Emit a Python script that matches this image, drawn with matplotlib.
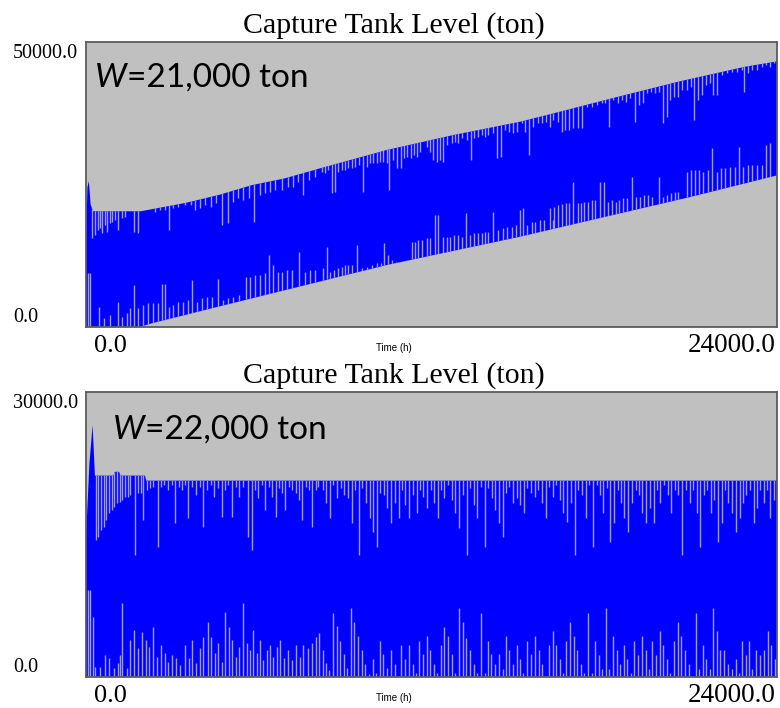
import matplotlib
matplotlib.use("Agg")
import matplotlib.pyplot as plt

BLUE = "#0000ff"; GREY = "#c0c0c0"; DIP = "#9e9ef6"; EDGE = "#5c5c5c"
W, H = 780, 708

# ---------- W = 21,000 ton : band envelope (h, ton) ----------
a_up_t = [0, 50, 100, 160, 250, 1900, 3440, 4600, 5770, 6910, 8127, 10443, 12759,
          15075, 16233, 18257, 20573, 22889, 24000]
a_up_v = [14700, 24500, 25600, 21500, 20300, 20300, 21750, 23150, 24900, 26080, 27830,
          31050, 33680, 36010, 37480, 40110, 43040, 45660, 46600]
a_lo_t = [0, 1850, 2281, 4596, 10443, 15075, 20980, 24000]
a_lo_v = [0, 0, 640, 3570, 10870, 15840, 22800, 26600]

# light strokes hanging from the top of the band (lowest level reached)
a_hi_t = [220, 313, 405, 498, 567, 660, 730, 822, 915, 1007, 1123, 1239, 1354, 1679, 1795,
          2281, 2396, 2570, 2744, 2883, 3033, 3207, 3438, 3647, 3786, 3960, 4133, 4342, 4504,
          4735, 4920, 5117, 5291, 5465, 5661, 5846, 6043, 6217, 6391, 6564, 6796, 7027, 7201,
          7375, 7548, 7745, 7953,
          8185, 8301, 8417, 8532, 8648, 8764, 8880, 8996, 9111, 9227, 9343, 9482, 9609, 9748,
          9864, 9980, 10096, 10211, 10327, 10443, 10536, 10675, 10814, 10929, 11045, 11161,
          11277, 11393, 11485, 11601, 11833, 11948, 12064, 12180, 12296, 12412, 12550, 12701,
          12817, 12933, 13049, 13222, 13361, 13477, 13628, 13743, 13859, 13975, 14125, 14264,
          14403, 14554, 14704, 14843, 14959, 15133, 15249, 15388, 15538, 15712, 15828, 15979,
          16117, 16233,
          16381, 16520, 16636, 16775, 16925, 17076, 17215, 17389, 17562, 17736, 17910, 18025,
          18164, 18315, 18465, 18604, 18743, 18894, 19068, 19207, 19357, 19473, 19623, 19762,
          19901, 20052, 20168, 20284, 20434, 20550, 20689, 20863, 21002, 21129, 21268, 21384,
          21523, 21673, 21789, 21905, 22078, 22252, 22426, 22600, 22773, 22866, 23005, 23144,
          23294, 23468, 23607, 23758, 23885]
a_hi_v = [15560, 16140, 17010, 17300, 16430, 17890, 16720, 18190, 18470, 18770, 17010, 19060,
          19350, 16720, 16430, 20820, 20230, 20520, 20520, 17010, 20820, 21100, 21400, 21400,
          20520, 20820, 21400, 21100, 21690, 17890, 18190, 21980, 22570, 22280, 22570, 18470,
          23150, 23450, 23730, 24030, 24030, 24610, 24610, 25490, 23150, 25780, 26360,
          27250, 26950, 27540, 23440, 23740, 27250, 27540, 27540, 27830, 27830, 28120, 28410,
          23740, 28120, 28710, 28710, 28710, 29000, 29000, 28710, 24030, 29290, 27830, 27830,
          29580, 29870, 29580, 30170, 29870, 30750, 31630, 30750, 29290, 29000, 29290, 29000,
          31920, 32220, 32500, 32220, 33090, 32800, 29290, 33090, 33380, 33680, 33380, 33680,
          33970, 29580, 29870, 34550, 34260, 33970, 34260, 35720, 34260, 30170, 35140, 35720,
          35720, 36010, 35140, 36310,
          36010, 34260, 34550, 34550, 34850, 34850, 34850, 38640, 38640, 38940, 39240, 39240,
          35130, 39820, 39240, 39820, 39520, 40110, 36010, 38940, 39240, 40990, 41270, 40990,
          41270, 35730, 36890, 39820, 40400, 40400, 41570, 41570, 42150, 36310, 39820, 40690,
          42450, 42740, 40690, 40690, 44200, 44500, 44780, 44780, 45080, 41270, 44500, 45080,
          45080, 45660, 45950, 45660, 46250]

# light strokes rising from the bottom of the band (highest level reached)
a_low_t = [58, 150, 451, 637, 833, 1100, 1262, 1412, 1528, 1679, 1818, 1991, 2165, 2339, 2489,
           2628, 2744, 2883, 3033, 3207, 3380, 3531, 3670, 3843, 4017, 4191, 4365, 4596, 4770,
           4943, 5117, 5314, 5545, 5696, 5869, 6043, 6217, 6356, 6483, 6657, 6819, 6969, 7143,
           7410, 7606, 7780, 7953,
           8220, 8359, 8474, 8613, 8764, 8880, 8996, 9111, 9227, 9424, 9574, 9748, 9922, 10096,
           10235, 10362, 10501, 10617, 10767, 10906, 11045, 11196, 11312, 11427, 11543, 11659,
           11833, 11948, 12122, 12238, 12412, 12527, 12643, 12782, 12933, 13049, 13188, 13338,
           13477, 13628, 13743, 13859, 13975, 14125, 14322, 14473, 14635, 14786, 14936, 15075,
           15191, 15330, 15480, 15596, 15770, 15909, 16117, 16233,
           16265, 16404, 16520, 16659, 16775, 16925, 17076, 17192, 17307, 17423, 17562, 17678,
           17852, 18002, 18141, 18257, 18396, 18512, 18662, 18778, 18952, 19091, 19241, 19392,
           19531, 19647, 19901, 20052, 20168, 20318, 20457, 20573, 20863, 21002, 21152, 21291,
           21442, 21592, 21731, 21905, 22055, 22194, 22368, 22542, 22692, 22831, 22982, 23121,
           23294, 23468, 23619, 23758]
a_low_v = [9410, 9410, 3570, 1520, 2100, 4440, 1810, 2400, 3280, 7370, 3280, 3860, 4150, 4150,
           4270, 7540, 7600, 3570, 3860, 4440, 4440, 4740, 8240, 4440, 5030, 5320, 5320, 8360,
           4740, 5030, 5320, 5610, 8830, 8830, 9120, 9120, 9410, 12630, 10870, 9700, 9700,
           10000, 10000, 13210, 9700, 10000, 10000,
           10290, 14090, 9710, 10000, 10290, 10580, 10870, 10870, 10870, 14380, 10290, 10580,
           10870, 11170, 11170, 14680, 12630, 11750, 11460, 11460, 11460, 11750, 14970, 14970,
           15260, 15260, 15550, 15550, 19640, 19640, 15840, 15840, 15840, 16140, 16140, 15840,
           19940, 16140, 16430, 16430, 16430, 16720, 16720, 20230, 17010, 17300, 17600, 17600,
           17890, 20520, 20810, 17890, 18470, 18470, 18770, 18770, 20810, 18770,
           21100, 21400, 21570, 21690, 21690, 25490, 21690, 21690, 21990, 21990, 22280, 22280,
           25490, 25490, 21990, 22280, 21990, 22280, 22570, 22570, 26370, 22860, 22860, 23150,
           23150, 22860, 26370, 22860, 23150, 23450, 23740, 23740, 27250, 27540, 27540, 27540,
           27250, 27540, 31340, 27250, 27830, 27830, 28120, 28120, 31630, 28120, 28410, 28410,
           28410, 28410, 31920, 32220]

# ---------- W = 22,000 ton ----------
b_up_t = [0, 120, 230, 310, 950, 1000, 1150, 1200, 2050, 2090, 24000]
b_up_v = [14700, 22500, 26500, 21200, 21200, 21600, 21600, 21200, 21200, 20670, 20670]
b_lo_t = [0, 24000]
b_lo_v = [0, 0]

b_hi_t = [336, 428, 521, 614, 706, 799, 892, 984, 1077, 1169, 1262, 1355, 1447, 1540, 1702,
          1818, 1910, 1991, 2107, 2223, 2339, 2489, 2605, 2721, 2860, 2975, 3091, 3230, 3346,
          3438, 3554, 3693, 3809, 3959, 4075, 4191, 4342, 4457, 4573, 4712, 4828, 4943, 5059,
          5198, 5314, 5464, 5615, 5754, 5870, 5985, 6101, 6217, 6356, 6472, 6587, 6703, 6819,
          6911, 7050, 7166, 7282, 7398, 7513, 7629, 7745, 7861, 7977, 8069,
          8220, 8335, 8474, 8590, 8706, 8845, 8961, 9100, 9227, 9331, 9493, 9586, 9725, 9852,
          9980, 10107, 10223, 10339, 10466, 10594, 10721, 10860, 10976, 11091, 11207, 11346,
          11485, 11601, 11717, 11833, 11971, 12087, 12226, 12342, 12446, 12574, 12712, 12828,
          12967, 13083, 13222, 13349, 13477, 13593, 13709, 13848, 13975, 14091, 14207, 14334,
          14473, 14589, 14704, 14820, 14959, 15075, 15214, 15330, 15446, 15585, 15712, 15839,
          15979, 16094, 16210,
          16312, 16451, 16578, 16705, 16844, 16983, 17099, 17215, 17354, 17470, 17608, 17736,
          17840, 17968, 18095, 18211, 18350, 18465, 18581, 18697, 18836, 18952, 19091, 19207,
          19323, 19438, 19577, 19716, 19832, 19948, 20075, 20202, 20318, 20457, 20573, 20712,
          20828, 20967, 21083, 21210, 21337, 21453, 21580, 21696, 21824, 21963, 22078, 22194,
          22310, 22449, 22565, 22704, 22820, 22935, 23051, 23190, 23306, 23422, 23538, 23653,
          23769, 23908]
b_hi_v = [14420, 14770, 15470, 15820, 16530, 17230, 17580, 17930, 18280, 18450, 18630, 18980,
          18980, 19160, 12840, 19340, 19340, 16530, 19680, 19860, 20030, 13720, 20030, 20210,
          19680, 20210, 16180, 20030, 19680, 20210, 16700, 20030, 19160, 20030, 15820, 19680,
          20210, 18980, 19860, 16870, 19680, 20210, 16870, 20030, 18980, 20030, 14770, 13370,
          19680, 18810, 20210, 17580, 20030, 18980, 16870, 19860, 19340, 17580, 20030, 19680,
          19340, 18630, 16530, 20030, 19680, 15820, 19680, 20030,
          19680, 18280, 16700, 20210, 18810, 19860, 19160, 18810, 16180, 19680, 12840, 19860,
          18280, 16700, 15290, 13720, 19340, 19160, 17760, 16180, 18280, 16700, 19680, 18100,
          16700, 19160, 17230, 19680, 18980, 17760, 19680, 18280, 16700, 19680, 18810, 20210,
          18630, 17230, 15650, 19160, 12840, 19860, 18100, 16700, 20030, 13720, 19860, 18810,
          17580, 16180, 14770, 19340, 20030, 18280, 18810, 18100, 17230, 19860, 19340, 18980,
          19680, 18280, 16700, 20030, 18980,
          20210, 18630, 17230, 16350, 18280, 12840, 19680, 19160, 16700, 20210, 13720, 20210,
          19160, 17230, 19860, 14240, 16180, 19680, 18280, 16700, 15290, 18280, 19680, 19160,
          17230, 16180, 17760, 16180, 19680, 18280, 20210, 19160, 17230, 19680, 19160, 12840,
          19680, 18280, 19680, 17230, 13720, 19160, 19680, 17230, 18630, 14240, 16180, 19680,
          18280, 17230, 15290, 16700, 18280, 19160, 19680, 16180, 17760, 19680, 18280, 19680,
          16700, 18630]

b_low_t = [60, 150, 255, 313, 486, 660, 799, 984, 1100, 1181, 1262, 1412, 1528, 1679, 1818,
           1933, 2072, 2188, 2339, 2454, 2605, 2744, 2860, 2998, 3114, 3264, 3438, 3577, 3693,
           3809, 3959, 4075, 4226, 4342, 4480, 4596, 4712, 4828, 4967, 5082, 5198, 5314, 5441,
           5580, 5696, 5811, 5927, 6043, 6159, 6275, 6391, 6507, 6622, 6738, 6888, 7027, 7143,
           7282, 7432, 7548, 7699, 7838, 7977, 8092,
           8220, 8335, 8451, 8567, 8706, 8822, 8961, 9076, 9192, 9320, 9458, 9586, 9702, 9829,
           9956, 10072, 10211, 10327, 10466, 10582, 10721, 10941, 11068, 11207, 11346, 11462,
           11578, 11694, 11833, 11948, 12087, 12203, 12319, 12446, 12574, 12712, 12828, 12944,
           13083, 13199, 13338, 13465, 13593, 13709, 13848, 13952, 14079, 14218, 14334, 14473,
           14589, 14704, 14820, 14959, 15075, 15191, 15307, 15446, 15585, 15724, 15839, 16071,
           16210,
           16312, 16451, 16578, 16682, 16810, 16937, 17064, 17180, 17307, 17423, 17562, 17678,
           17805, 17933, 18048, 18176, 18303, 18430, 18558, 18674, 18801, 18929, 19044, 19183,
           19311, 19438, 19554, 19670, 19809, 19924, 20040, 20179, 20295, 20411, 20550, 20665,
           20804, 20944, 21175, 21291, 21430, 21546, 21673, 21789, 21916, 22032, 22171, 22287,
           22426, 22565, 22681, 22797, 22912, 23028, 23144, 23260, 23422, 23538, 23677, 23793,
           23931]
b_low_v = [9160, 9160, 6350, 1090, 1090, 2350, 2000, 910, 1440, 2350, 7820, 910, 3890, 4950,
           3020, 4770, 3890, 3190, 5300, 2140, 3370, 2490, 1610, 2350, 2000, 1230, 3370, 2000,
           3890, 1440, 3020, 4240, 5820, 4240, 2490, 3550, 1610, 6880, 5300, 3890, 2140, 3190,
           7750, 3550, 2840, 4950, 2490, 3890, 1790, 2840, 3370, 2140, 3190, 3890, 2000, 2840,
           1790, 3370, 2140, 3370, 3020, 3550, 4240, 4600,
           2840, 1440, 740, 6770, 5370, 3820, 2420, 910, 7300, 5820, 4350, 2840, 1370, 320,
           1860, 390, 3820, 2420, 910, 2840, 1370, 3370, 1860, 3370, 1370, 390, 3820, 2420,
           4320, 2840, 1370, 390, 3370, 5300, 4320, 2420, 390, 7300, 5820, 4070, 2840, 1370,
           390, 6770, 390, 3820, 2420, 1370, 2420, 810, 4320, 2840, 1370, 3370, 1860, 390,
           3820, 2420, 4320, 2840, 1370, 3370, 4840,
           3370, 1860, 390, 3820, 5820, 4320, 2840, 1370, 390, 6770, 390, 3820, 2320, 810,
           7300, 810, 4320, 2840, 1370, 3370, 1860, 390, 3820, 2320, 4320, 2840, 810, 3820,
           2320, 4840, 3370, 1860, 390, 3820, 5820, 4320, 2840, 1370, 6770, 810, 3370, 1860,
           810, 7300, 4840, 2840, 2840, 1370, 810, 1860, 390, 3820, 2320, 3820, 810, 2840,
           2320, 2840, 4840, 3370, 1860]

T_MAX = 24000

fig = plt.figure(figsize=(7.8, 7.08), dpi=100)


def px(x, y):
    return x / W, 1 - y / H


def panel(top_px, ymax, up_t, up_v, lo_t, lo_v, hi_t, hi_v, low_t, low_v):
    l, b = px(86, top_px + 285)
    ax = fig.add_axes([l, b, 691 / W, 285 / H])
    ax.set_facecolor(GREY)
    ax.set_xlim(0, T_MAX); ax.set_ylim(0, ymax)
    ax.set_xticks([]); ax.set_yticks([])
    for s in ax.spines.values():
        s.set_color(EDGE); s.set_linewidth(1.3)
    band, = ax.fill(up_t + lo_t[::-1], up_v + lo_v[::-1], color=BLUE, lw=0)
    c1 = ax.vlines(hi_t, hi_v, ymax, color=DIP, lw=1.0)
    c2 = ax.vlines(low_t, 0, low_v, color=DIP, lw=1.0)
    c1.set_clip_path(band); c2.set_clip_path(band)
    return ax


def labels(ax, top_px, ymax_txt, wtxt, wx, wy):
    serif = "Liberation Serif"
    fig.text(*px(394, top_px - 9), "Capture Tank Level (ton)", ha="center", va="baseline",
             family=serif, size=21.5)
    fig.text(*px(13, top_px + 16), ymax_txt, ha="left", va="baseline", family=serif, size=14.5)
    fig.text(*px(13, top_px + 280), "0.0", ha="left", va="baseline", family=serif, size=14.5)
    fig.text(*px(110, top_px + 310), "0.0", ha="center", va="baseline", family=serif, size=19)
    fig.text(*px(776, top_px + 310), "24000.0", ha="right", va="baseline", family=serif, size=19.5)
    fig.text(*px(394, top_px + 309), "Time (h)", ha="center", va="baseline",
             family="Liberation Sans", size=7)
    t1 = fig.text(*px(wx, wy), "W", ha="left", va="baseline", family="Lato",
                  style="italic", size=24)
    ax.annotate(wtxt, xy=(1, 0), xycoords=t1, ha="left", va="bottom", family="Lato",
                size=24, annotation_clip=False)


ax1 = panel(42, 50000, a_up_t, a_up_v, a_lo_t, a_lo_v, a_hi_t, a_hi_v, a_low_t, a_low_v)
labels(ax1, 42, "50000.0", "=21,000 ton", 95, 87)
ax2 = panel(392, 30000, b_up_t, b_up_v, b_lo_t, b_lo_v, b_hi_t, b_hi_v, b_low_t, b_low_v)
labels(ax2, 392, "30000.0", "=22,000 ton", 113, 439)

fig.savefig("out.png", dpi=100, facecolor="white")
